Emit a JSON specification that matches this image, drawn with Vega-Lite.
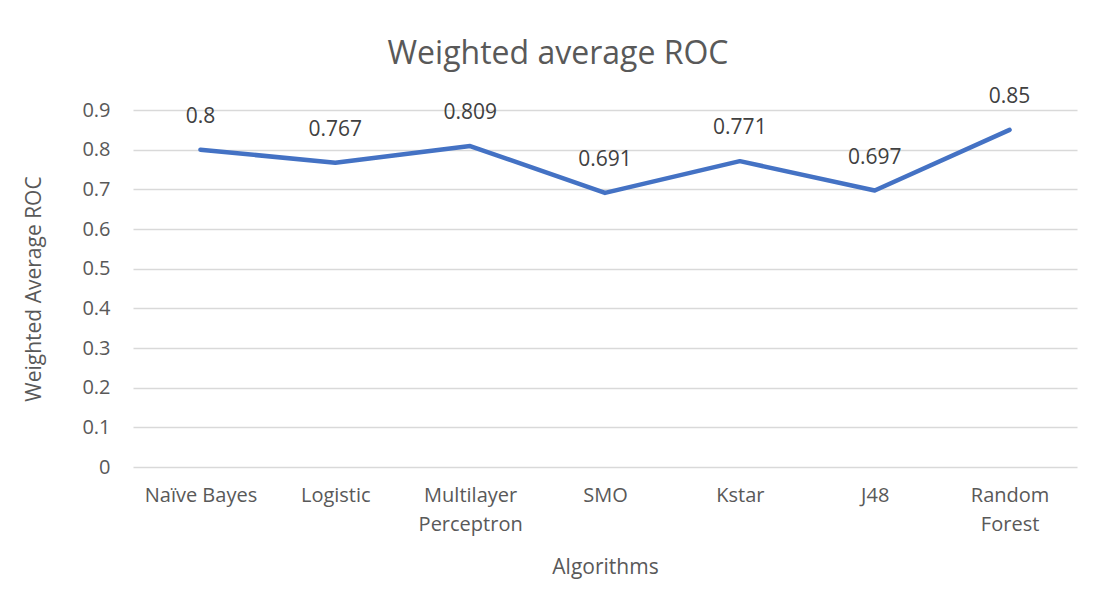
{
  "$schema": "https://vega.github.io/schema/vega-lite/v6.json",
  "width": 944,
  "height": 357,
  "autosize": {"type": "none"},
  "padding": {"left": 133, "top": 110, "right": 19, "bottom": 142},
  "background": "white",
  "title": {
    "text": "Weighted average ROC",
    "font": "Open Sans",
    "fontSize": 32,
    "fontWeight": "normal",
    "color": "#595959",
    "anchor": "middle",
    "dx": -47,
    "dy": 52,
    "baseline": "alphabetic",
    "offset": 42
  },
  "data": {
    "values": [
      {"algorithm": "Naïve Bayes", "roc": 0.8},
      {"algorithm": "Logistic", "roc": 0.767},
      {"algorithm": "Multilayer Perceptron", "roc": 0.809},
      {"algorithm": "SMO", "roc": 0.691},
      {"algorithm": "Kstar", "roc": 0.771},
      {"algorithm": "J48", "roc": 0.697},
      {"algorithm": "Random Forest", "roc": 0.85}
    ]
  },
  "encoding": {
    "x": {
      "field": "algorithm",
      "type": "nominal",
      "sort": null,
      "scale": {"type": "point", "padding": 0.5},
      "axis": {
        "title": "Algorithms",
        "titleFont": "Open Sans",
        "titleFontSize": 21,
        "titleFontWeight": "normal",
        "titleColor": "#595959",
        "titlePadding": 22,
        "labelFont": "Open Sans",
        "labelFontSize": 20,
        "labelColor": "#595959",
        "labelAngle": 0,
        "labelPadding": 18,
        "labelLineHeight": 29,
        "labelExpr": "datum.label == 'Multilayer Perceptron' ? ['Multilayer', 'Perceptron'] : datum.label == 'Random Forest' ? ['Random', 'Forest'] : datum.label",
        "domain": false,
        "ticks": false,
        "grid": false
      }
    },
    "y": {
      "field": "roc",
      "type": "quantitative",
      "scale": {"domain": [0, 0.9], "nice": false, "zero": true},
      "axis": {
        "title": "Weighted Average ROC",
        "titleFont": "Open Sans",
        "titleFontSize": 21,
        "titleFontWeight": "normal",
        "titleColor": "#595959",
        "titlePadding": 37,
        "labelFont": "Open Sans",
        "labelFontSize": 20,
        "labelColor": "#595959",
        "labelPadding": 23,
        "values": [0, 0.1, 0.2, 0.3, 0.4, 0.5, 0.6, 0.7, 0.8, 0.9],
        "format": ".1~f",
        "domain": false,
        "ticks": false,
        "grid": true,
        "gridColor": "#d9d9d9",
        "gridWidth": 1.3
      }
    }
  },
  "layer": [
    {
      "mark": {"type": "line", "color": "#4472C4", "strokeWidth": 4.5, "strokeJoin": "round", "strokeCap": "round"}
    },
    {
      "mark": {"type": "text", "font": "Open Sans", "fontSize": 21, "color": "#404040", "dy": -33},
      "encoding": {"text": {"field": "roc", "type": "quantitative"}}
    }
  ],
  "config": {"view": {"stroke": null}}
}
